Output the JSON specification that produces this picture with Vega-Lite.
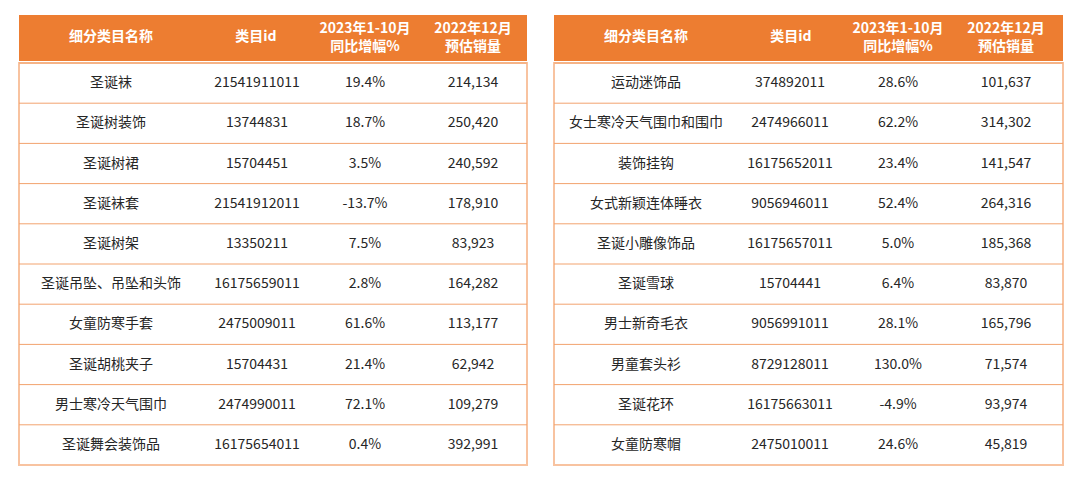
{
  "$schema": "https://vega.github.io/schema/vega-lite/v6.json",
  "background": "white",
  "padding": {"left": 17, "top": 15, "right": 0, "bottom": 0},
  "config": {
    "view": {"stroke": null},
    "locale": {"number": {"decimal": ".", "thousands": ",", "grouping": [3], "currency": ["$", ""], "minus": "-"}},
    "text": {"font": "Noto Sans CJK SC"}
  },
  "datasets": {
    "heads": [
      {"col": 0, "label": ["细分类目名称"]},
      {"col": 1, "label": ["类目id"]},
      {"col": 2, "label": ["2023年1-10月", "同比增幅%"]},
      {"col": 3, "label": ["2022年12月", "预估销量"]}
    ],
    "tables": [
      {"panel": "L", "row": 1, "name": "圣诞袜", "id": "21541911011", "growth": 0.194, "sales": 214134},
      {"panel": "L", "row": 2, "name": "圣诞树装饰", "id": "13744831", "growth": 0.187, "sales": 250420},
      {"panel": "L", "row": 3, "name": "圣诞树裙", "id": "15704451", "growth": 0.035, "sales": 240592},
      {"panel": "L", "row": 4, "name": "圣诞袜套", "id": "21541912011", "growth": -0.137, "sales": 178910},
      {"panel": "L", "row": 5, "name": "圣诞树架", "id": "13350211", "growth": 0.075, "sales": 83923},
      {"panel": "L", "row": 6, "name": "圣诞吊坠、吊坠和头饰", "id": "16175659011", "growth": 0.028, "sales": 164282},
      {"panel": "L", "row": 7, "name": "女童防寒手套", "id": "2475009011", "growth": 0.616, "sales": 113177},
      {"panel": "L", "row": 8, "name": "圣诞胡桃夹子", "id": "15704431", "growth": 0.214, "sales": 62942},
      {"panel": "L", "row": 9, "name": "男士寒冷天气围巾", "id": "2474990011", "growth": 0.721, "sales": 109279},
      {"panel": "L", "row": 10, "name": "圣诞舞会装饰品", "id": "16175654011", "growth": 0.004, "sales": 392991},
      {"panel": "R", "row": 1, "name": "运动迷饰品", "id": "374892011", "growth": 0.286, "sales": 101637},
      {"panel": "R", "row": 2, "name": "女士寒冷天气围巾和围巾", "id": "2474966011", "growth": 0.622, "sales": 314302},
      {"panel": "R", "row": 3, "name": "装饰挂钩", "id": "16175652011", "growth": 0.234, "sales": 141547},
      {"panel": "R", "row": 4, "name": "女式新颖连体睡衣", "id": "9056946011", "growth": 0.524, "sales": 264316},
      {"panel": "R", "row": 5, "name": "圣诞小雕像饰品", "id": "16175657011", "growth": 0.05, "sales": 185368},
      {"panel": "R", "row": 6, "name": "圣诞雪球", "id": "15704441", "growth": 0.064, "sales": 83870},
      {"panel": "R", "row": 7, "name": "男士新奇毛衣", "id": "9056991011", "growth": 0.281, "sales": 165796},
      {"panel": "R", "row": 8, "name": "男童套头衫", "id": "8729128011", "growth": 1.3, "sales": 71574},
      {"panel": "R", "row": 9, "name": "圣诞花环", "id": "16175663011", "growth": -0.049, "sales": 93974},
      {"panel": "R", "row": 10, "name": "女童防寒帽", "id": "2475010011", "growth": 0.246, "sales": 45819}
    ]
  },
  "spacing": 23,
  "hconcat": [
    {
      "spacing": 0,
      "vconcat": [
        {
          "width": 508, "height": 46,
          "view": {"fill": "#ED7D31", "stroke": null},
          "data": {"name": "heads"},
          "encoding": {
            "x": {"field": "col", "type": "quantitative", "axis": null, "scale": {"type": "linear", "domain": [0, 1, 2, 3], "range": [92, 237, 346, 454], "nice": false, "zero": false}},
            "text": {"field": "label"}
          },
          "layer": [
            {
              "transform": [{"filter": "length(datum.label) == 1"}],
              "mark": {"type": "text", "fontSize": 14, "fontWeight": "bold", "color": "white", "baseline": "middle", "align": "center", "dy": -1}
            },
            {
              "transform": [{"filter": "length(datum.label) == 2"}],
              "mark": {"type": "text", "fontSize": 14, "fontWeight": "bold", "color": "white", "lineHeight": 18, "baseline": "middle", "align": "center", "dy": -9}
            }
          ]
        },
        {
          "width": 508, "height": 402,
          "data": {"name": "tables"},
          "transform": [{"filter": "datum.panel === 'L'"}],
          "view": {"stroke": "#F8C3A0", "strokeWidth": 2, "fill": "white"},
          "encoding": {
            "y": {"field": "row", "type": "ordinal", "axis": null, "scale": {"type": "band", "paddingInner": 0, "paddingOuter": 0}}
          },
          "layer": [
            {
              "mark": {"type": "rule", "color": "#F2A36E", "strokeWidth": 1},
              "encoding": {"y": {"field": "row", "type": "ordinal", "bandPosition": 0, "axis": null}}
            },
            {
              "mark": {"type": "text", "fontSize": 14, "color": "#262626", "baseline": "middle", "align": "center"},
              "encoding": {
                "x": {"datum": 0, "type": "quantitative", "axis": null, "scale": {"type": "linear", "domain": [0, 1, 2, 3], "range": [92, 238, 346, 454], "nice": false, "zero": false}},
                "text": {"field": "name"}
              }
            },
            {
              "mark": {"type": "text", "fontSize": 14, "color": "#262626", "baseline": "middle", "align": "center"},
              "encoding": {"x": {"datum": 1, "type": "quantitative"}, "text": {"field": "id"}}
            },
            {
              "mark": {"type": "text", "fontSize": 14, "color": "#262626", "baseline": "middle", "align": "center"},
              "encoding": {"x": {"datum": 2, "type": "quantitative"}, "text": {"field": "growth", "type": "quantitative", "format": ".1%"}}
            },
            {
              "mark": {"type": "text", "fontSize": 14, "color": "#262626", "baseline": "middle", "align": "center"},
              "encoding": {"x": {"datum": 3, "type": "quantitative"}, "text": {"field": "sales", "type": "quantitative", "format": ","}}
            }
          ]
        }
      ]
    },
    {
      "spacing": 0,
      "vconcat": [
        {
          "width": 509, "height": 46,
          "view": {"fill": "#ED7D31", "stroke": null},
          "data": {"name": "heads"},
          "encoding": {
            "x": {"field": "col", "type": "quantitative", "axis": null, "scale": {"type": "linear", "domain": [0, 1, 2, 3], "range": [92, 237, 344, 452], "nice": false, "zero": false}},
            "text": {"field": "label"}
          },
          "layer": [
            {
              "transform": [{"filter": "length(datum.label) == 1"}],
              "mark": {"type": "text", "fontSize": 14, "fontWeight": "bold", "color": "white", "baseline": "middle", "align": "center", "dy": -1}
            },
            {
              "transform": [{"filter": "length(datum.label) == 2"}],
              "mark": {"type": "text", "fontSize": 14, "fontWeight": "bold", "color": "white", "lineHeight": 18, "baseline": "middle", "align": "center", "dy": -9}
            }
          ]
        },
        {
          "width": 509, "height": 402,
          "data": {"name": "tables"},
          "transform": [{"filter": "datum.panel === 'R'"}],
          "view": {"stroke": "#F8C3A0", "strokeWidth": 2, "fill": "white"},
          "encoding": {
            "y": {"field": "row", "type": "ordinal", "axis": null, "scale": {"type": "band", "paddingInner": 0, "paddingOuter": 0}}
          },
          "layer": [
            {
              "mark": {"type": "rule", "color": "#F2A36E", "strokeWidth": 1},
              "encoding": {"y": {"field": "row", "type": "ordinal", "bandPosition": 0, "axis": null}}
            },
            {
              "mark": {"type": "text", "fontSize": 14, "color": "#262626", "baseline": "middle", "align": "center"},
              "encoding": {
                "x": {"datum": 0, "type": "quantitative", "axis": null, "scale": {"type": "linear", "domain": [0, 1, 2, 3], "range": [92, 236, 344, 452], "nice": false, "zero": false}},
                "text": {"field": "name"}
              }
            },
            {
              "mark": {"type": "text", "fontSize": 14, "color": "#262626", "baseline": "middle", "align": "center"},
              "encoding": {"x": {"datum": 1, "type": "quantitative"}, "text": {"field": "id"}}
            },
            {
              "mark": {"type": "text", "fontSize": 14, "color": "#262626", "baseline": "middle", "align": "center"},
              "encoding": {"x": {"datum": 2, "type": "quantitative"}, "text": {"field": "growth", "type": "quantitative", "format": ".1%"}}
            },
            {
              "mark": {"type": "text", "fontSize": 14, "color": "#262626", "baseline": "middle", "align": "center"},
              "encoding": {"x": {"datum": 3, "type": "quantitative"}, "text": {"field": "sales", "type": "quantitative", "format": ","}}
            }
          ]
        }
      ]
    }
  ]
}
